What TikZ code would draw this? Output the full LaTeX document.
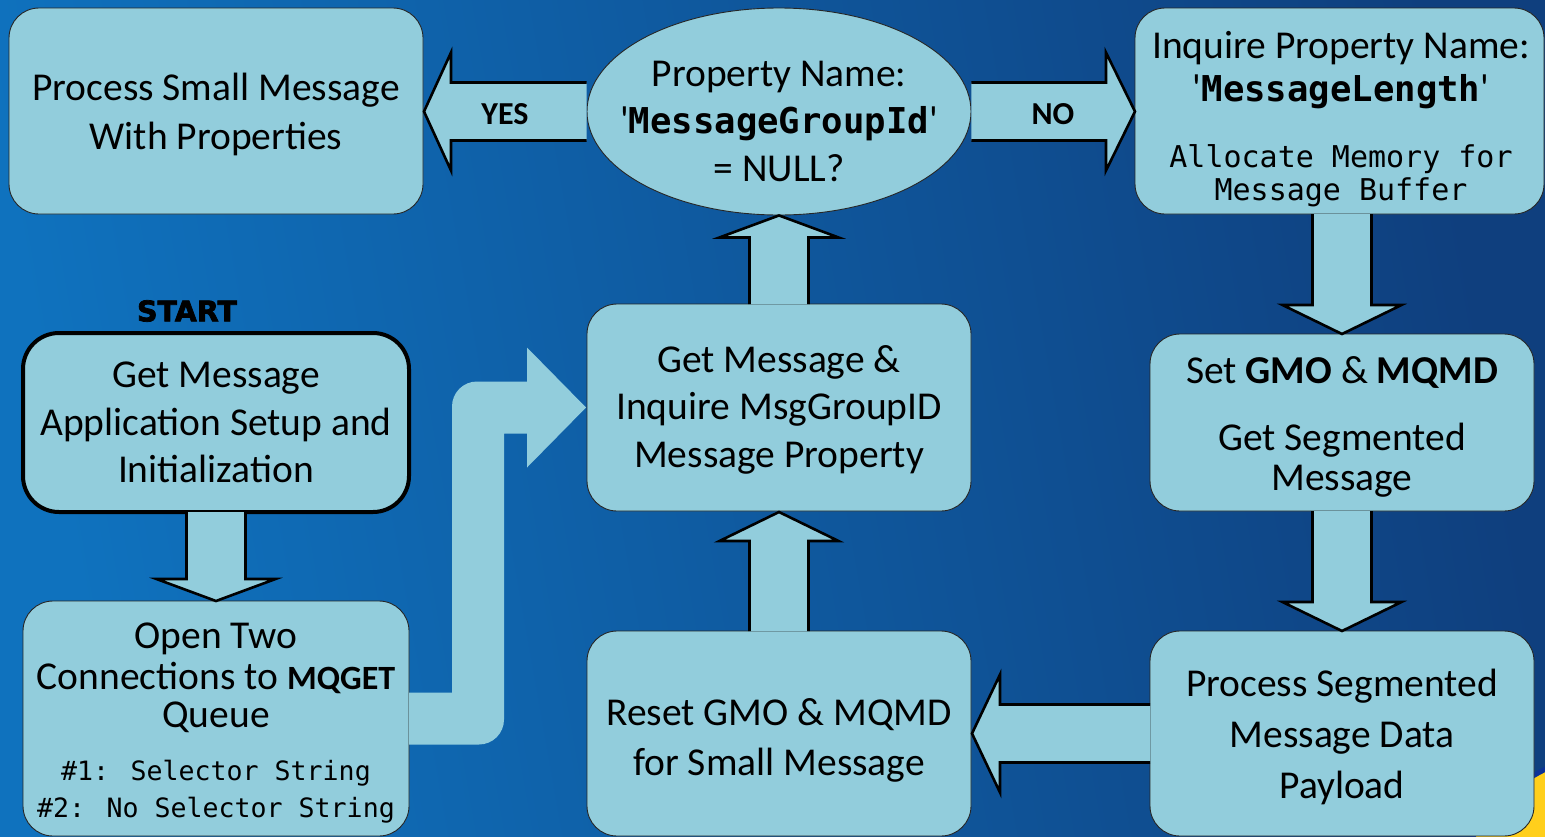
\documentclass[tikz,border=0pt]{standalone}
\usepackage{fontspec}
\setmainfont{Carlito}
\newfontfamily\codefont{DejaVu Sans Mono}
\newfontfamily\startfont[FakeBold=2.5]{DejaVu Sans Bold}
\usetikzlibrary{shapes.geometric,calc}

\definecolor{boxfill}{HTML}{92CDDC}
\definecolor{bgleft}{HTML}{0F72BE}
\definecolor{bgright}{HTML}{0F3F7E}
\definecolor{sun}{HTML}{FFCF1C}

\tikzset{
  boxstyle/.style={draw=black!85, line width=0.9pt, fill=boxfill,
    rounded corners=30pt, inner sep=0pt, outer sep=0pt},
  blockarrow/.style={draw=black, line width=2.6pt, fill=boxfill, line join=miter},
  txt/.style={font=\fontsize{39.5}{44}\selectfont, anchor=base, inner sep=0pt},
  codetxt/.style={font=\codefont\fontsize{26.6}{30}\selectfont, anchor=base, inner sep=0pt},
  bigcode/.style={font=\codefont\fontsize{30}{32}\selectfont, anchor=base, inner sep=0pt},
  flag/.style={font=\bfseries\fontsize{32}{34}\selectfont, anchor=center, inner sep=0pt},
}
\newcommand{\propname}[1]{\textquotesingle{\codefont\bfseries\fontsize{35.6}{38}\selectfont #1}\textquotesingle}

\begin{document}
\begin{tikzpicture}[x=1pt, y=-1pt]
\useasboundingbox (0,0) rectangle (1545,836);

% backdrop
\shade[left color=bgleft, right color=bgright, shading angle=100] (0,0) rectangle (1545,836);
\begin{scope}
  \clip (0,0) rectangle (1545,836);
  \draw[draw=bgright!80!blue, line width=5pt, fill=sun] (1620,922) circle (170);
\end{scope}

% process boxes
\node[boxstyle, minimum width=414pt, minimum height=206pt] (smallmsg) at (216,111) {};
\node[draw=black!85, line width=0.9pt, fill=boxfill, ellipse, inner sep=0pt,
      minimum width=384pt, minimum height=207pt] (decision) at (779,111.5) {};
\node[boxstyle, minimum width=409pt, minimum height=206pt] (inquire) at (1339.5,111) {};
\node[boxstyle, minimum width=384pt, minimum height=207pt] (getmsg) at (779,407.5) {};
\node[boxstyle, draw=black, line width=4pt, rounded corners=36pt,
      minimum width=386pt, minimum height=179pt] (setup) at (216,422.5) {};
\node[boxstyle, minimum width=386pt, minimum height=235pt] (openconn) at (216,718.5) {};
\node[boxstyle, minimum width=384pt, minimum height=205pt] (reset) at (779,733.5) {};
\node[boxstyle, minimum width=384pt, minimum height=177pt] (setgmo) at (1342,422.5) {};
\node[boxstyle, minimum width=384pt, minimum height=205pt] (procseg) at (1342,733.5) {};

% texts
\node[txt] (a1) at (216,100) {Process Small Message};
\node[txt] (a2) at (216,149) {With Properties};

\node[txt] (b1) at (779,86) {Property Name:};
\node[txt] (b2) at (779,133) {\propname{MessageGroupId}};
\node[txt] (b3) at (779,181) {= NULL?};

\node[txt] (c1) at (1341,58) {Inquire Property Name:};
\node[txt] (c2) at (1341,101) {\propname{MessageLength}};
\node[bigcode] (c3) at (1341,167) {Allocate Memory for};
\node[bigcode] (c4) at (1341,200) {Message Buffer};

\node[txt] (d1) at (779,372) {Get Message \&};
\node[txt] (d2) at (779,419) {Inquire MsgGroupID};
\node[txt] (d3) at (779,467) {Message Property};

\node[font=\startfont\fontsize{28.5}{30}\selectfont, inner sep=0pt] (start) at (187,311) {START};
\node[txt] (e1) at (216,387) {Get Message};
\node[txt] (e2) at (216,435) {Application Setup and};
\node[txt] (e3) at (216,482) {Initialization};

\node[txt] (f1) at (216,648) {Open Two};
\node[txt] (f2) at (216,689) {Connections to {\bfseries\fontsize{34}{38}\selectfont MQGET}};
\node[txt] (f3) at (216,727) {Queue};
\node[codetxt] (f4) at (216,780) {\#1: Selector String};
\node[codetxt] (f5) at (216,817) {\#2: No Selector String};

\node[txt] (g1) at (779,725) {Reset GMO \& MQMD};
\node[txt] (g2) at (779,775) {for Small Message};

\node[txt] (h1) at (1342,383) {Set \textbf{GMO} \& \textbf{MQMD}};
\node[txt] (h2) at (1342,450) {Get Segmented};
\node[txt] (h3) at (1342,490) {Message};

\node[txt] (i1) at (1342,696) {Process Segmented};
\node[txt] (i2) at (1342,747) {Message Data};
\node[txt] (i3) at (1342,798) {Payload};

% block arrows between the steps
% decision -> small message (YES)
\draw[blockarrow] let \p1=(decision.west), \p2=(smallmsg.east) in
  (\x1,\y1+29pt) -- (\x2+28pt,\y1+29pt) -- (\x2+28pt,\y1+59pt) -- (\x2+1pt,\y1)
  -- (\x2+28pt,\y1-59pt) -- (\x2+28pt,\y1-29pt) -- (\x1,\y1-29pt);
\node[flag] (yes) at (505,114) {YES};

% decision -> inquire (NO)
\draw[blockarrow] let \p1=(decision.east), \p2=(inquire.west) in
  (\x1,\y1+29pt) -- (\x2-29pt,\y1+29pt) -- (\x2-29pt,\y1+59pt) -- (\x2,\y1)
  -- (\x2-29pt,\y1-59pt) -- (\x2-29pt,\y1-29pt) -- (\x1,\y1-29pt);
\node[flag] (no) at (1053,114) {NO};

% getmsg -> decision
\draw[blockarrow] let \p1=(getmsg.north), \p2=(decision.south) in
  (\x1-29.5pt,\y1) -- (\x1-29.5pt,\y2-22pt) -- (\x1-59.5pt,\y2-22pt) -- (\x2,\y2)
  -- (\x1+59.5pt,\y2-22pt) -- (\x1+29.5pt,\y2-22pt) -- (\x1+29.5pt,\y1);

% reset -> getmsg
\draw[blockarrow] let \p1=(reset.north), \p2=(getmsg.south) in
  (\x1-29.5pt,\y1) -- (\x1-29.5pt,\y2-30pt) -- (\x1-59.5pt,\y2-30pt) -- (\x2,\y2-1pt)
  -- (\x1+59.5pt,\y2-30pt) -- (\x1+29.5pt,\y2-30pt) -- (\x1+29.5pt,\y1);

% setup -> openconn
\draw[blockarrow] let \p1=(setup.south), \p2=(openconn.north) in
  (\x1-29.5pt,\y1) -- (\x1-29.5pt,\y2+22pt) -- (\x1-59.5pt,\y2+22pt) -- (\x2,\y2)
  -- (\x1+59.5pt,\y2+22pt) -- (\x1+29.5pt,\y2+22pt) -- (\x1+29.5pt,\y1);

% inquire -> setgmo
\draw[blockarrow] let \p1=(inquire.south), \p2=(setgmo.north) in
  (\x2-29.5pt,\y1) -- (\x2-29.5pt,\y2+29pt) -- (\x2-59.5pt,\y2+29pt) -- (\x2,\y2)
  -- (\x2+59.5pt,\y2+29pt) -- (\x2+29.5pt,\y2+29pt) -- (\x2+29.5pt,\y1);

% setgmo -> procseg
\draw[blockarrow] let \p1=(setgmo.south), \p2=(procseg.north) in
  (\x2-29.5pt,\y1) -- (\x2-29.5pt,\y2+29pt) -- (\x2-59.5pt,\y2+29pt) -- (\x2,\y2)
  -- (\x2+59.5pt,\y2+29pt) -- (\x2+29.5pt,\y2+29pt) -- (\x2+29.5pt,\y1);

% procseg -> reset
\draw[blockarrow] let \p1=(procseg.west), \p2=(reset.east) in
  (\x1,\y2+29pt) -- (\x2+29pt,\y2+29pt) -- (\x2+29pt,\y2+59pt) -- (\x2+1pt,\y2)
  -- (\x2+29pt,\y2-59pt) -- (\x2+29pt,\y2-29pt) -- (\x1,\y2-29pt);

% openconn -> getmsg, bent band without outline
\fill[boxfill] let \p1=(openconn.east), \p2=(getmsg.west) in
  (\x1,\y1+26pt) -- (\x2-135pt,\y1+26pt)
  -- (\x2-135pt,\y2+1pt)
  arc[start angle=180, end angle=90, radius=25pt]
  -- (\x2-60pt,\y2+26pt) -- (\x2-60pt,\y2+60pt) -- (\x2-1pt,\y2)
  -- (\x2-60pt,\y2-60pt) -- (\x2-60pt,\y2-26pt) -- (\x2-83pt,\y2-26pt)
  -- (\x2-83pt,\y1-1pt)
  arc[start angle=0, end angle=-90, radius=25pt]
  -- (\x1,\y1-26pt) -- cycle;
\end{tikzpicture}
\end{document}
